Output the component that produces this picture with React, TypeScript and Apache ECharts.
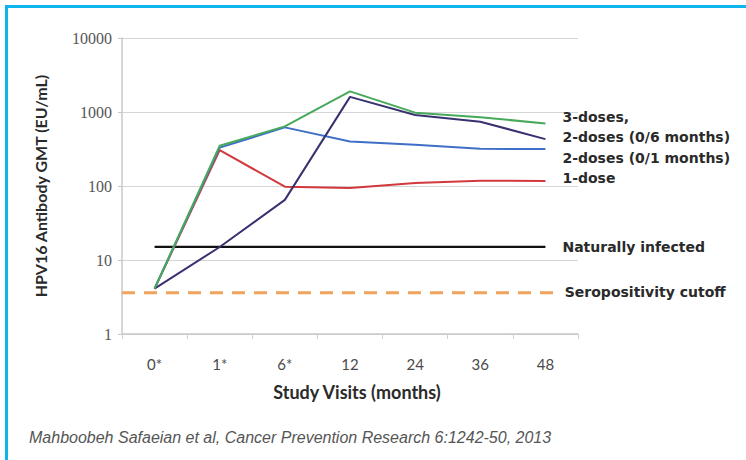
import React, { useEffect, useRef } from "react";
import * as echarts from "echarts";

// Study visits (months) and HPV16 antibody GMT (EU/mL) per group
const visits = ["0*", "1*", "6*", "12", "24", "36", "48"];
const threeDoses = [4.1, 350, 640, 1900, 980, 850, 700];
const twoDoses06 = [4.1, 15, 65, 1600, 910, 740, 430];
const twoDoses01 = [4.1, 330, 620, 400, 360, 318, 316];
const oneDose = [4.1, 305, 98, 94, 110, 118, 117];
const naturallyInfected = [15, 15, 15, 15, 15, 15, 15];
// cutoff drawn along a 0..1 helper axis spanning the plot width
const cutoffLine = [
  [0, 3.6],
  [0.96, 3.6],
];

const yTicks = [1, 10, 100, 1000, 10000];

const labelFont = {
  fontFamily: "DejaVu Sans, Liberation Sans, sans-serif",
  fontWeight: "bold" as const,
  fontSize: 14,
  color: "#2a2a2a",
};

function lineSeries(
  name: string,
  data: number[],
  color: string,
  label: string,
  dy: number,
  width = 2
) {
  return {
    name,
    type: "line",
    data,
    showSymbol: false,
    symbol: "none",
    lineStyle: { color, width },
    itemStyle: { color },
    z: 3,
    endLabel: {
      show: true,
      formatter: label,
      distance: 17,
      offset: [0, dy],
      ...labelFont,
    },
  };
}

export default function App() {
  const ref = useRef<HTMLDivElement>(null);

  useEffect(() => {
    if (!ref.current) return;
    const chart = echarts.init(ref.current, null, { renderer: "svg" });
    chart.setOption({
      animation: false,
      backgroundColor: "#ffffff",
      grid: { left: 122, right: 168, top: 38, bottom: 126 },
      xAxis: [
        {
          type: "category",
          data: visits,
          boundaryGap: true,
          axisLine: { lineStyle: { color: "#c8c8c8", width: 1.5 } },
          axisTick: {
            show: true,
            length: 5,
            inside: false,
            lineStyle: { color: "#d0d0d0" },
          },
          axisLabel: {
            margin: 22,
            fontFamily: "Lato, Liberation Sans, sans-serif",
            fontSize: 15,
            color: "#4a4a4a",
          },
        },
        {
          type: "value",
          min: 0,
          max: 1,
          show: false,
        },
      ],
      yAxis: {
        type: "log",
        logBase: 10,
        min: 1,
        max: 10000,
        axisLine: { show: true, lineStyle: { color: "#c8c8c8", width: 1.5 } },
        axisTick: { show: true, length: 4, lineStyle: { color: "#c8c8c8" } },
        splitLine: { show: true, lineStyle: { color: "#d6d6d6", width: 1.2 } },
        axisLabel: {
          margin: 10,
          fontFamily: "Liberation Serif, DejaVu Serif, serif",
          fontSize: 16,
          color: "#555",
          formatter: (v: number) =>
            yTicks.includes(Math.round(v)) ? String(Math.round(v)) : "",
        },
      },
      series: [
        {
          name: "Seropositivity cutoff",
          type: "line",
          xAxisIndex: 1,
          data: cutoffLine,
          showSymbol: false,
          symbol: "none",
          lineStyle: { color: "#f0a35c", width: 3, type: [13, 9] },
          z: 2,
          endLabel: {
            show: true,
            formatter: "Seropositivity cutoff",
            distance: 5,
            offset: [0, -1],
            ...labelFont,
          },
        },
        lineSeries("Naturally infected", naturallyInfected, "#111111", "Naturally infected", 0, 2.2),
        lineSeries("1-dose", oneDose, "#d2393c", "1-dose", -3),
        lineSeries("2-doses (0/1 months)", twoDoses01, "#3f6fc6", "2-doses (0/1 months)", 9),
        lineSeries("2-doses (0/6 months)", twoDoses06, "#383170", "2-doses (0/6 months)", -2),
        lineSeries("3-doses", threeDoses, "#47a95a", "3-doses,", -6),
      ],
      graphic: [
        // slide frame edges
        { type: "rect", shape: { x: 5, y: 5, width: 741, height: 3 }, style: { fill: "#0db4ee" } },
        { type: "rect", shape: { x: 5, y: 5, width: 3, height: 455 }, style: { fill: "#0db4ee" } },
        {
          type: "text",
          x: 40,
          y: 186,
          rotation: Math.PI / 2,
          style: {
            text: "HPV16 Antibody GMT (EU/mL)",
            fontFamily: "Lato, Liberation Sans, sans-serif",
            fontWeight: "bold",
            fontSize: 16,
            fill: "#2a2a2a",
            align: "center",
            verticalAlign: "middle",
          },
        },
        {
          type: "text",
          x: 357,
          y: 392,
          style: {
            text: "Study Visits (months)",
            fontFamily: "Lato, Liberation Sans, sans-serif",
            fontWeight: "bold",
            fontSize: 18,
            fill: "#2a2a2a",
            align: "center",
            verticalAlign: "middle",
          },
        },
        {
          type: "text",
          x: 29,
          y: 437,
          style: {
            text: "Mahboobeh Safaeian et al, Cancer Prevention Research 6:1242-50, 2013",
            fontFamily: "Liberation Sans, Arial, sans-serif",
            fontStyle: "italic",
            fontSize: 16,
            fill: "#555",
            align: "left",
            verticalAlign: "middle",
          },
        },
      ],
    });
    return () => chart.dispose();
  }, []);

  return (
    <div
      ref={ref}
      style={{ position: "fixed", left: 0, top: 0, width: 746, height: 460 }}
    />
  );
}
